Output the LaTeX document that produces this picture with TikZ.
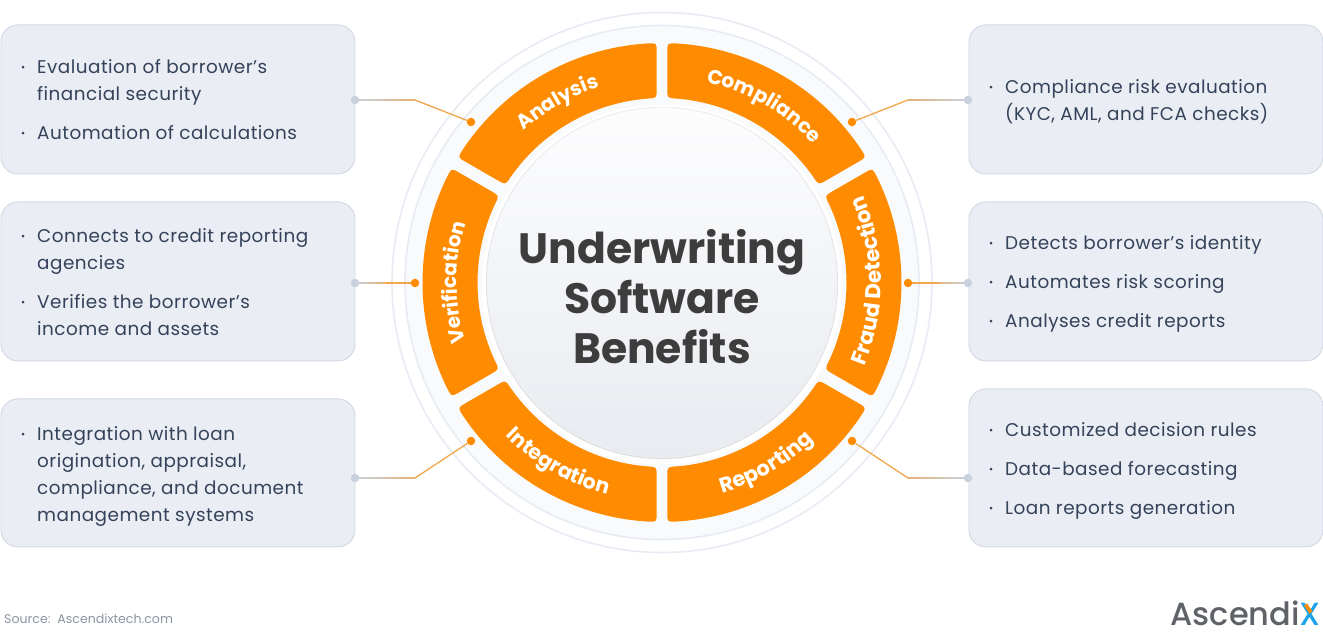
\documentclass[tikz,border=0pt]{standalone}
\usepackage{fontspec}
\setmainfont{Poppins}
\newfontfamily\bodyf{Poppins}[LetterSpace=2.6]
\newfontfamily\logof{Poppins Medium}
\usetikzlibrary{calc,decorations.text}
\definecolor{orangeM}{HTML}{FF8C00}
\definecolor{lineO}{HTML}{F2A64A}
\definecolor{boxF}{HTML}{EAEDF3}
\definecolor{boxD}{HTML}{D2D7E3}
\definecolor{dotG}{HTML}{C9D1DE}
\definecolor{inkT}{HTML}{34425A}
\definecolor{titleC}{HTML}{3D3D3D}
\definecolor{ringL}{HTML}{E7ECF4}
\definecolor{ringF}{HTML}{F8FAFC}
\definecolor{srcC}{HTML}{8B95A3}
\definecolor{logoG}{HTML}{5F6266}
\definecolor{logoB}{HTML}{1CA3EC}
\definecolor{diskT}{HTML}{FDFDFE}
\definecolor{diskB}{HTML}{E8EBF0}
\definecolor{diskL}{HTML}{ECEFF4}
\tikzset{
  panel/.style={draw=boxD,line width=0.9pt,fill=boxF,rounded corners=17pt},
  itemtext/.style={anchor=north west,inner sep=0pt,align=left,text=inkT,font=\bodyf\fontsize{18.4}{27}\selectfont},
  bulletdot/.style={circle,fill=inkT,inner sep=0pt,minimum size=3pt},
  greydot/.style={circle,fill=dotG,inner sep=0pt,minimum size=8.5pt},
  orangedot/.style={circle,fill=orangeM,inner sep=0pt,minimum size=8.5pt},
}
\def\Ro{239.5}\def\Ri{184.5}\def\Cr{9}
% #1 larger boundary angle, #2 smaller boundary angle, #3 half gap at #1, #4 half gap at #2
\newcommand{\segment}[4]{%
  \fill[orangeM]
   ({#1-asin(#3/\Ro)-\Cr/\Ro*57.3}:\Ro)
   arc[start angle={#1-asin(#3/\Ro)-\Cr/\Ro*57.3},end angle={#2+asin(#4/\Ro)+\Cr/\Ro*57.3},radius=\Ro]
   .. controls ({#2+asin(#4/\Ro)}:\Ro) .. ({#2+asin(#4/(\Ro-\Cr))}:{\Ro-\Cr})
   -- ({#2+asin(#4/(\Ri+\Cr))}:{\Ri+\Cr})
   .. controls ({#2+asin(#4/\Ri)}:\Ri) .. ({#2+asin(#4/\Ri)+\Cr/\Ri*57.3}:\Ri)
   arc[start angle={#2+asin(#4/\Ri)+\Cr/\Ri*57.3},end angle={#1-asin(#3/\Ri)-\Cr/\Ri*57.3},radius=\Ri]
   .. controls ({#1-asin(#3/\Ri)}:\Ri) .. ({#1-asin(#3/(\Ri+\Cr))}:{\Ri+\Cr})
   -- ({#1-asin(#3/(\Ro-\Cr))}:{\Ro-\Cr})
   .. controls ({#1-asin(#3/\Ro)}:\Ro) .. cycle;
}
% text, start angle, end angle, radius, size
\newcommand{\arclabel}[5]{%
  \path[decorate,decoration={text along path,text align=center,
     text={|\fontsize{#5}{20}\bfseries\color{white}|#1}}]
    (#2:#4) arc[start angle=#2,end angle=#3,radius=#4];
}
\newcommand{\bul}[4]{% name, x, baseline (px from top), text
  \node[bulletdot] (#1d) at ({#2-14},{640-#3+6}) {};
  \node[itemtext] (#1) at (#2,{640-#3+16}) {\rule{0pt}{16pt}#4};
}
\newcommand{\conn}[3]{%
  \foreach \i [evaluate=\i as \m using {100-\i*7.5}, evaluate=\i as \n using {\i+1.05}] in {0,...,9}{
    \draw[line width=1.3pt,color=dotG!\m!lineO] ($(#1)!\i/10!(#2)$) -- ($(#1)!\n/10!(#2)$);
  }
  \draw[line width=1.3pt,lineO] (#2) -- (#3);
}
\begin{document}
\begin{tikzpicture}[x=1pt,y=1pt]
\useasboundingbox (0,0) rectangle (1323,640);
% boxes
\node[panel,minimum width=354pt,minimum height=149pt,anchor=north west,inner sep=0pt] (boxA) at (0.5,615.5) {};
\node[panel,minimum width=354pt,minimum height=159pt,anchor=north west,inner sep=0pt] (boxV) at (0.5,438.5) {};
\node[panel,minimum width=354pt,minimum height=148pt,anchor=north west,inner sep=0pt] (boxI) at (0.5,241.5) {};
\node[panel,minimum width=354pt,minimum height=149pt,anchor=north west,inner sep=0pt] (boxC) at (968.5,615.5) {};
\node[panel,minimum width=354pt,minimum height=159pt,anchor=north west,inner sep=0pt] (boxF) at (968.5,438.5) {};
\node[panel,minimum width=354pt,minimum height=158pt,anchor=north west,inner sep=0pt] (boxR) at (968.5,251.5) {};
% rings and disk
\begin{scope}[shift={(662,357.5)}]
  \node[circle,draw=ringL,line width=1.6pt,fill=white,minimum size=540pt,inner sep=0pt] (ringOuter) at (0,0) {};
  \node[circle,draw=ringL,line width=1.6pt,fill=ringF,minimum size=514pt,inner sep=0pt] (ringInner) at (0,0) {};
  \fill[white] (0,-2) circle (180);
  \fill[black!13] (0,-0.6) circle (176);
  \node[circle,draw=diskL,line width=0.8pt,minimum size=350pt,inner sep=0pt,top color=diskT,bottom color=diskB] (disk) at (0,0) {};
  \segment{150}{90}{6.3}{5.3}
  \segment{90}{30}{5.3}{6.3}
  \segment{30}{-30}{6.3}{6.3}
  \segment{-30}{-90}{6.3}{5.3}
  \segment{-90}{-150}{5.3}{6.3}
  \segment{210}{150}{6.3}{6.3}
  \arclabel{Analysis}{148}{92}{205}{20}
  \arclabel{Compliance}{88}{32}{205}{20}
  \arclabel{Fraud Detection}{-27.5}{28.5}{219}{21.5}
  \arclabel{Reporting}{-88}{-32}{219}{21}
  \arclabel{Integration}{-148}{-92}{219}{20.5}
  \arclabel{Verification}{208}{152}{205}{20}
  \node[anchor=center,align=center,text=titleC,font=\fontsize{42.5}{50}\bfseries] (title) at (0,-14) {Underwriting\\Software\\Benefits};
\end{scope}
% connector ends
\node[greydot] (gA) at (355,540) {};
\node[greydot] (gV) at (355,357) {};
\node[greydot] (gI) at (355,162) {};
\node[greydot] (gC) at (968,540) {};
\node[greydot] (gF) at (968,357) {};
\node[greydot] (gR) at (968,162) {};
\coordinate (bA) at (415,540);
\coordinate (bV) at (385,357);
\coordinate (bI) at (415,162);
\coordinate (bC) at (908,540);
\coordinate (bF) at (938,357);
\coordinate (bR) at (908,162);
\node[orangedot] (oA) at (471,518) {};
\node[orangedot] (oV) at (415,357) {};
\node[orangedot] (oI) at (471,199) {};
\node[orangedot] (oC) at (852,518) {};
\node[orangedot] (oF) at (908,357) {};
\node[orangedot] (oR) at (852,199) {};
\conn{gA}{bA}{oA}
\conn{gV}{bV}{oV}
\conn{gI}{bI}{oI}
\conn{gC}{bC}{oC}
\conn{gF}{bF}{oF}
\conn{gR}{bR}{oR}
% items
\bul{a1}{37}{73.2}{Evaluation of borrower’s\\financial security}
\bul{a2}{37}{139.2}{Automation of calculations}
\bul{v1}{37}{242.2}{Connects to credit reporting\\agencies}
\bul{v2}{37}{308.2}{Verifies the borrower’s\\income and assets}
\bul{i1}{37}{440.2}{Integration with loan\\origination, appraisal,\\compliance, and document\\management systems}
\bul{c1}{1005}{93.2}{Compliance risk evaluation\\(KYC, AML, and FCA checks)}
\bul{f1}{1005}{249.2}{Detects borrower’s identity}
\bul{f2}{1005}{288.2}{Automates risk scoring}
\bul{f3}{1005}{327.2}{Analyses credit reports}
\bul{r1}{1005}{436.2}{Customized decision rules}
\bul{r2}{1005}{475.2}{Data-based forecasting}
\bul{r3}{1005}{514.2}{Loan reports generation}
% footer
\node[anchor=base west,inner sep=0pt,text=srcC,font=\fontsize{12.6}{16}\selectfont] (source) at (4,16) {Source:\ \ Ascendixtech.com};
\node[anchor=base east,inner sep=0pt,text=logoG,font=\logof\fontsize{32}{36}\selectfont] (logo) at (1321,14) {Ascendi{\color{logoB}X}};
\draw[orangeM,line width=3.6pt] (1305.5,35.5) -- (1311,27.5);
\end{tikzpicture}
\end{document}
